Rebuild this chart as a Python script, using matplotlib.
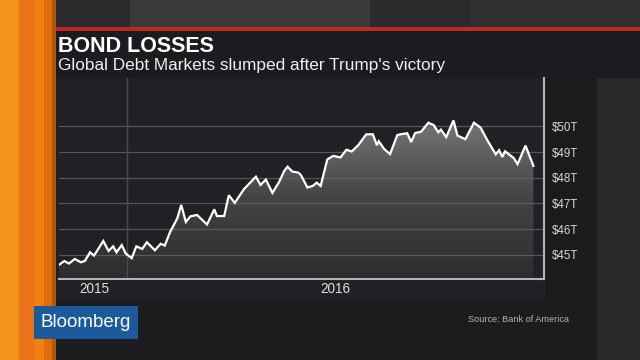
import matplotlib
matplotlib.use("Agg")
import matplotlib.pyplot as plt
import matplotlib.dates as mdates
from matplotlib.patches import Rectangle
from matplotlib.colors import LinearSegmentedColormap
import numpy as np
import pandas as pd

plt.rcParams['font.family'] = ['Liberation Sans', 'DejaVu Sans']

title = "BOND LOSSES"
subtitle = "Global Debt Markets slumped after Trump's victory"
source = "Source: Bank of America"
brand = "Bloomberg"

dates = [
    "2014-11-09", "2014-11-17", "2014-11-24", "2014-12-03", "2014-12-12", "2014-12-18",
    "2014-12-26", "2015-01-01", "2015-01-15", "2015-01-23", "2015-01-30", "2015-02-04",
    "2015-02-12", "2015-02-18", "2015-02-27", "2015-03-06", "2015-03-15", "2015-03-22",
    "2015-04-03", "2015-04-12", "2015-04-18", "2015-04-26", "2015-05-07", "2015-05-13",
    "2015-05-20", "2015-05-27", "2015-06-06", "2015-06-21", "2015-07-02", "2015-07-06",
    "2015-07-17", "2015-07-24", "2015-08-02", "2015-08-16", "2015-09-03", "2015-09-10",
    "2015-09-18", "2015-09-28", "2015-10-08", "2015-10-16", "2015-10-21", "2015-10-28",
    "2015-11-06", "2015-11-10", "2015-11-20", "2015-11-28", "2015-12-04", "2015-12-10",
    "2015-12-20", "2015-12-29", "2016-01-09", "2016-01-18", "2016-01-26", "2016-02-05",
    "2016-02-17", "2016-02-27", "2016-03-04", "2016-03-07", "2016-03-15", "2016-03-24",
    "2016-04-04", "2016-04-11", "2016-04-19", "2016-04-25", "2016-05-01", "2016-05-10",
    "2016-05-21", "2016-05-29", "2016-06-05", "2016-06-09", "2016-06-17", "2016-06-28",
    "2016-07-04", "2016-07-16", "2016-07-29", "2016-08-08", "2016-08-18", "2016-08-31",
    "2016-09-05", "2016-09-10", "2016-09-14", "2016-09-27", "2016-10-03", "2016-10-15",
    "2016-10-27",
]
debt_trn = [
    44.61, 44.76, 44.66, 44.84, 44.71, 44.76,
    45.10, 44.97, 45.54, 45.15, 45.33, 45.10,
    45.38, 45.05, 44.87, 45.33, 45.23, 45.49,
    45.18, 45.43, 45.36, 45.88, 46.42, 46.94,
    46.28, 46.50, 46.55, 46.18, 46.77, 46.51,
    46.51, 47.32, 47.02, 47.56, 48.04, 47.72,
    47.93, 47.41, 47.83, 48.27, 48.43, 48.24,
    48.20, 48.11, 47.62, 47.68, 47.81, 47.68,
    48.71, 48.85, 48.79, 49.09, 49.02, 49.27,
    49.69, 49.69, 49.27, 49.42, 49.12, 48.92,
    49.66, 49.70, 49.73, 49.39, 49.74, 49.79,
    50.14, 50.05, 49.77, 49.87, 49.58, 50.23,
    49.64, 49.50, 50.14, 49.95, 49.47, 48.91,
    49.07, 48.81, 49.03, 48.77, 48.53, 49.25,
    48.46,
]
ytick_vals = [45, 46, 47, 48, 49, 50]
ytick_labels = ["$45T", "$46T", "$47T", "$48T", "$49T", "$50T"]
xtick_dates = ["2015-01-01", "2016-01-01"]
xtick_labels = ["2015", "2016"]
marker_date = "2015-02-20"

W, H = 640, 360
fig = plt.figure(figsize=(6.4, 3.6), dpi=100)
fig.patch.set_facecolor("#1d1d20")

def px(x, y, w, h, color, z=0, **kw):
    fig.patches.append(Rectangle((x / W, 1 - (y + h) / H), w / W, h / H,
                                 transform=fig.transFigure, facecolor=color,
                                 edgecolor="none", zorder=z, **kw))

# background regions
px(0, 0, 640, 29, "#2b2b2d")
px(130, 0, 240, 27, "#3a3a3b")
px(470, 0, 170, 27, "#303031")
px(55, 78, 545, 230, "#212125")
px(545, 78, 52, 230, "#1b1b1e")
px(597, 78, 43, 282, "#272827")
px(55, 300, 542, 60, "#1c1c1f")
# header
px(52, 31, 588, 47, "#1c1c20")
px(52, 27, 588, 3.5, "#c42323")
# orange stripe
px(0, 0, 56, 360, "#ee7f10")
px(0, 0, 18, 360, "#f2941c")
px(20, 0, 14, 360, "#e9731a")
px(44, 0, 8, 360, "#e06c0e")
px(52, 0, 4, 360, "#b05a0c")

# chart axes
ax = fig.add_axes([59 / W, 1 - 279 / H, 485 / W, 201 / H])
ax.set_zorder(3)
ax.set_facecolor("none")
x = pd.to_datetime(dates)
y = np.array(debt_trn)

ymin, ymax = 44.06, 51.88
xmin, xmax = pd.Timestamp("2014-11-09"), pd.Timestamp("2016-11-12")

poly = ax.fill_between(x, y, ymin, facecolor="none", edgecolor="none")
grad = np.linspace(0, 1, 256).reshape(-1, 1)
cmap = LinearSegmentedColormap.from_list("g", ["#2c2c2f", "#444447", "#777778"])
xn0, xn1 = mdates.date2num(x[0]), mdates.date2num(x[-1])
im = ax.imshow(grad, cmap=cmap, origin="lower", aspect="auto",
               extent=[xn0, xn1, ymin, 50.3], zorder=1)
im.set_clip_path(poly.get_paths()[0], transform=ax.transData)

for v in ytick_vals:
    ax.axhline(v, color="#606064", lw=0.9, alpha=0.85, zorder=2)
ax.axvline(pd.Timestamp(marker_date), color="#4a4a4e", lw=1.0, zorder=2)

ax.plot(x, y, color="white", lw=1.6, zorder=3, solid_joinstyle="miter")

ax.set_xlim(xmin, xmax)
ax.set_ylim(ymin, ymax)

ax.yaxis.tick_right()
ax.set_yticks(ytick_vals)
ax.set_yticklabels(ytick_labels)
ax.set_xticks(pd.to_datetime(xtick_dates))
ax.set_xticklabels(xtick_labels)
ax.tick_params(axis="y", length=0, pad=5.5, labelsize=8.3, labelcolor="#d6d6d6")
ax.tick_params(axis="x", length=0, pad=2.5, labelsize=9.8, labelcolor="#dedede")

for s in ["top", "left"]:
    ax.spines[s].set_visible(False)
for s in ["bottom", "right"]:
    ax.spines[s].set_color("#b4b4b6")
    ax.spines[s].set_linewidth(1.5)

# texts
fig.text(58 / W, 1 - 52.5 / H, title, color="white", fontsize=15.5,
         fontweight="bold", va="baseline", ha="left")
fig.text(58 / W, 1 - 70 / H, subtitle, color="#eeeeee", fontsize=12.4,
         va="baseline", ha="left")
fig.text(468 / W, 1 - 320 / H, source, color="#b4b4b4", fontsize=6.6,
         va="center", ha="left")

# Bloomberg logo
px(34, 306, 104, 33, "#1b5a9b", z=5)
fig.text(86 / W, 1 - 322.5 / H, brand, color="white", fontsize=13.5,
         va="center", ha="center", zorder=6)

fig.savefig("out.png", dpi=100, facecolor=fig.get_facecolor())
